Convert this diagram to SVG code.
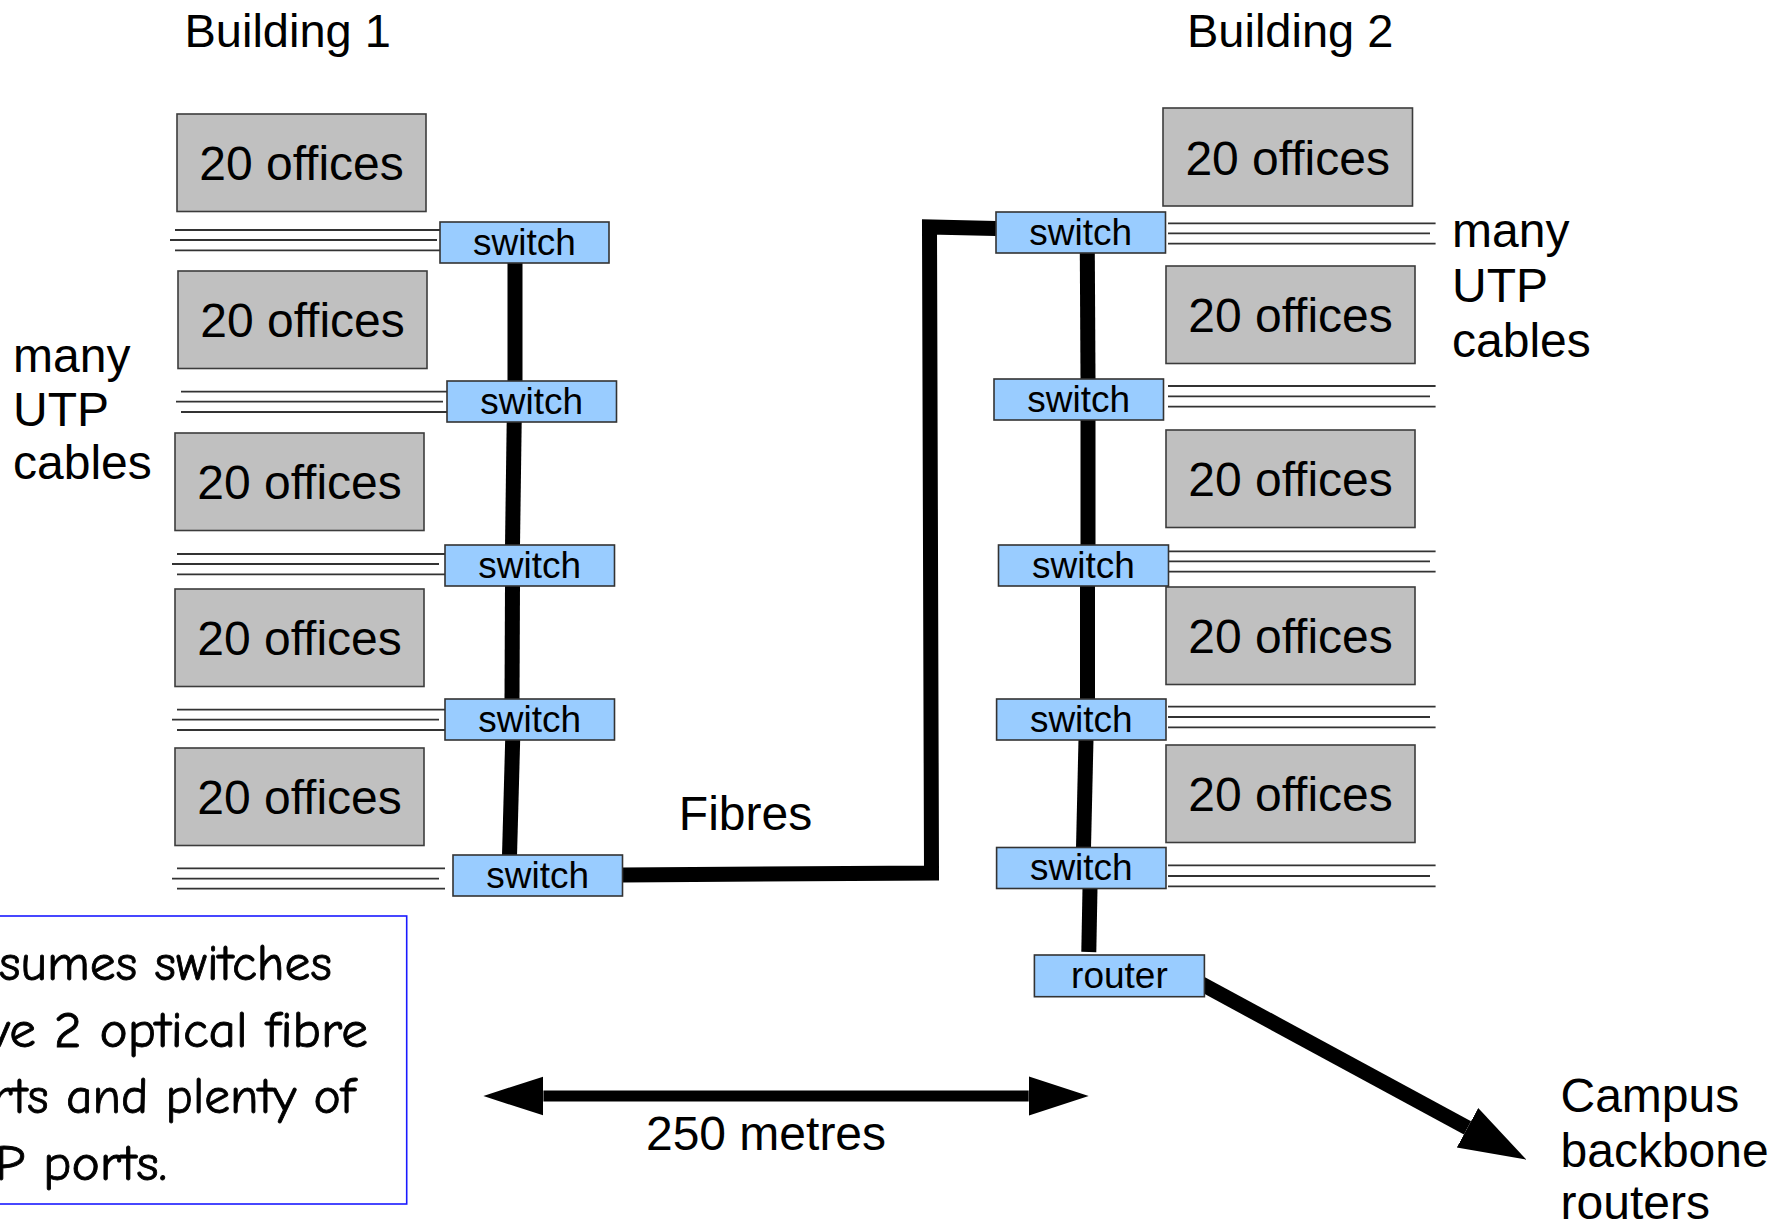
<svg xmlns="http://www.w3.org/2000/svg" width="1775" height="1224" viewBox="0 0 1775 1224">
  <style>
    .lbl { font-family: "Liberation Sans", Arial, sans-serif; font-size: 48px; fill: #000; }
    .title { font-size: 47px; }
    .mid { text-anchor: middle; }
    .office rect { fill: #c0c0c0; stroke: #3c3c3c; stroke-width: 1.6; }
    .office text { font-family: "Liberation Sans", Arial, sans-serif; font-size: 48px; text-anchor: middle; fill: #000; }
    .dev rect { fill: #99ccff; stroke: #333; stroke-width: 1.6; }
    .dev text { font-family: "Liberation Sans", Arial, sans-serif; font-size: 37px; text-anchor: middle; fill: #000; }
    .utp line { stroke: #333; stroke-width: 1.8; }
    .trunk { stroke: #000; stroke-width: 15; fill: none; stroke-linejoin: miter; }
    .note { font-family: "Comic Sans MS", "Comic Neue", "DejaVu Sans", sans-serif; font-size: 50px; fill: #000; stroke: #000; stroke-width: 0.8; }
  </style>
  <defs>
    <marker id="headSmall" markerUnits="userSpaceOnUse" markerWidth="62" markerHeight="42" viewBox="0 -21 62 42" refX="0" refY="0" orient="auto-start-reverse">
      <path d="M0,-19.5 L60,0 L0,19.5 Z" fill="#000"/>
    </marker>
    <marker id="headBig" markerUnits="userSpaceOnUse" markerWidth="70" markerHeight="48" viewBox="0 -24 70 48" refX="0" refY="0" orient="auto">
      <path d="M0,-22.5 L67,0 L0,22.5 Z" fill="#000"/>
    </marker>
  </defs>

  <!-- titles -->
  <text class="lbl title" x="184.5" y="46.7">Building 1</text>
  <text class="lbl title" x="1187" y="46.7">Building 2</text>

  <!-- cable labels -->
  <text class="lbl" x="13" y="371.7">many</text>
  <text class="lbl" x="13" y="426">UTP</text>
  <text class="lbl" x="13" y="479.3">cables</text>
  <text class="lbl" x="1452" y="246.7">many</text>
  <text class="lbl" x="1452" y="301.7">UTP</text>
  <text class="lbl" x="1452" y="356.7">cables</text>

  <text class="lbl mid" x="745.5" y="830">Fibres</text>
  <text class="lbl mid" x="766" y="1150">250 metres</text>
  <text class="lbl" x="1560.5" y="1111.7">Campus</text>
  <text class="lbl" x="1560.5" y="1166.7">backbone</text>
  <text class="lbl" x="1560.5" y="1219.3">routers</text>

  <!-- bundles of UTP cables -->
  <g id="utp" class="utp">
    <line x1="175" y1="230" x2="440" y2="230"/><line x1="170" y1="240" x2="437" y2="240"/><line x1="175" y1="250.3" x2="440" y2="250.3"/>
    <line x1="181" y1="391.7" x2="447" y2="391.7"/><line x1="176" y1="401.7" x2="443" y2="401.7"/><line x1="181" y1="412" x2="447" y2="412"/>
    <line x1="177" y1="554" x2="445" y2="554"/><line x1="172" y1="564" x2="439" y2="564"/><line x1="177" y1="574.3" x2="445" y2="574.3"/>
    <line x1="177" y1="709.7" x2="445" y2="709.7"/><line x1="172" y1="719.7" x2="439" y2="719.7"/><line x1="177" y1="730" x2="445" y2="730"/>
    <line x1="177" y1="868.3" x2="445" y2="868.3"/><line x1="172" y1="878.7" x2="439" y2="878.7"/><line x1="177" y1="888.7" x2="445" y2="888.7"/>
    <line x1="1168" y1="223.3" x2="1435.6" y2="223.3"/><line x1="1168" y1="233.3" x2="1430" y2="233.3"/><line x1="1168" y1="243.7" x2="1435.6" y2="243.7"/>
    <line x1="1168" y1="386" x2="1435.6" y2="386"/><line x1="1168" y1="396.3" x2="1430" y2="396.3"/><line x1="1168" y1="406.7" x2="1435.6" y2="406.7"/>
    <line x1="1169" y1="551.3" x2="1435.6" y2="551.3"/><line x1="1169" y1="561.3" x2="1430" y2="561.3"/><line x1="1169" y1="571.7" x2="1435.6" y2="571.7"/>
    <line x1="1168" y1="706.7" x2="1435.6" y2="706.7"/><line x1="1168" y1="717" x2="1430" y2="717"/><line x1="1168" y1="727.3" x2="1435.6" y2="727.3"/>
    <line x1="1168" y1="865.3" x2="1435.6" y2="865.3"/><line x1="1168" y1="876" x2="1430" y2="876"/><line x1="1168" y1="886.3" x2="1435.6" y2="886.3"/>
  </g>

  <!-- backbone links, fibres and arrows -->
  <g id="connectors">
    <line class="trunk" x1="515" y1="262" x2="515" y2="382"/>
    <line class="trunk" x1="514.2" y1="421" x2="512.5" y2="546"/>
    <line class="trunk" x1="512.5" y1="585" x2="512" y2="700"/>
    <line class="trunk" x1="512.7" y1="739" x2="509.5" y2="856"/>
    <line class="trunk" x1="1087.3" y1="252" x2="1088" y2="380"/>
    <line class="trunk" x1="1088" y1="419" x2="1088" y2="546"/>
    <line class="trunk" x1="1087.5" y1="585" x2="1087.5" y2="700"/>
    <line class="trunk" x1="1086" y1="739" x2="1083.5" y2="848"/>
    <line class="trunk" x1="1090" y1="888" x2="1088.8" y2="952"/>
    <polyline class="trunk" stroke-width="14.5" points="622,875 931.5,873 929.5,227 996,228.5"/>
    <line x1="543.4" y1="1096" x2="1028.7" y2="1096" stroke="#000" stroke-width="11" marker-start="url(#headSmall)" marker-end="url(#headSmall)"/>
    <line x1="1200" y1="983" x2="1467.5" y2="1127.8" stroke="#000" stroke-width="15" marker-end="url(#headBig)"/>
  </g>

  <!-- Building 1 floors -->
  <g id="b1-office1" class="office"><rect x="177" y="114" width="249" height="97.5"/><text x="301.5" y="180">20 offices</text></g>
  <g id="b1-office2" class="office"><rect x="178" y="271" width="249" height="97.5"/><text x="302.5" y="337">20 offices</text></g>
  <g id="b1-office3" class="office"><rect x="175" y="433" width="249" height="97.5"/><text x="299.5" y="499">20 offices</text></g>
  <g id="b1-office4" class="office"><rect x="175" y="589" width="249" height="97.5"/><text x="299.5" y="655">20 offices</text></g>
  <g id="b1-office5" class="office"><rect x="175" y="748" width="249" height="97.5"/><text x="299.5" y="814">20 offices</text></g>

  <g id="b1-switch1" class="dev"><rect x="440" y="222" width="169" height="41"/><text x="524.5" y="254.5">switch</text></g>
  <g id="b1-switch2" class="dev"><rect x="447" y="381" width="169.5" height="41"/><text x="531.7" y="413.5">switch</text></g>
  <g id="b1-switch3" class="dev"><rect x="445" y="545" width="169.5" height="41"/><text x="529.7" y="577.5">switch</text></g>
  <g id="b1-switch4" class="dev"><rect x="445" y="699" width="169.5" height="41"/><text x="529.7" y="731.5">switch</text></g>
  <g id="b1-switch5" class="dev"><rect x="453" y="855" width="169.5" height="41"/><text x="537.7" y="887.5">switch</text></g>

  <!-- Building 2 floors -->
  <g id="b2-office1" class="office"><rect x="1163" y="108" width="249.5" height="98"/><text x="1287.7" y="174.5">20 offices</text></g>
  <g id="b2-office2" class="office"><rect x="1166" y="266" width="249" height="97.5"/><text x="1290.5" y="332">20 offices</text></g>
  <g id="b2-office3" class="office"><rect x="1166" y="430" width="249" height="97.5"/><text x="1290.5" y="496">20 offices</text></g>
  <g id="b2-office4" class="office"><rect x="1166" y="587" width="249" height="97.5"/><text x="1290.5" y="653">20 offices</text></g>
  <g id="b2-office5" class="office"><rect x="1166" y="745" width="249" height="97.5"/><text x="1290.5" y="811">20 offices</text></g>

  <g id="b2-switch1" class="dev"><rect x="996" y="212" width="169.5" height="41"/><text x="1080.7" y="244.5">switch</text></g>
  <g id="b2-switch2" class="dev"><rect x="994" y="379" width="169.5" height="41"/><text x="1078.7" y="411.5">switch</text></g>
  <g id="b2-switch3" class="dev"><rect x="998.5" y="545" width="170" height="41"/><text x="1083.5" y="577.5">switch</text></g>
  <g id="b2-switch4" class="dev"><rect x="996.6" y="699" width="169.4" height="41"/><text x="1081.3" y="731.5">switch</text></g>
  <g id="b2-switch5" class="dev"><rect x="996.6" y="847.5" width="169.4" height="41"/><text x="1081.3" y="880">switch</text></g>

  <g id="router" class="dev"><rect x="1034.4" y="955" width="170" height="41.7"/><text x="1119.4" y="988">router</text></g>

  <!-- footnote box -->
  <g id="note">
    <rect x="-10" y="916" width="416.7" height="288" fill="#fff" stroke="#1a1aff" stroke-width="1.6"/>
    <text class="note" x="-1" y="980" textLength="333" lengthAdjust="spacingAndGlyphs">sumes switches</text>
    <text class="note" x="-12" y="1046.7" textLength="380" lengthAdjust="spacingAndGlyphs">ve 2 optical fibre</text>
    <text class="note" x="-8" y="1113" textLength="363" lengthAdjust="spacingAndGlyphs">rts and plenty of</text>
    <text class="note" x="-5" y="1180" textLength="172" lengthAdjust="spacingAndGlyphs">P ports.</text>
  </g>
</svg>
